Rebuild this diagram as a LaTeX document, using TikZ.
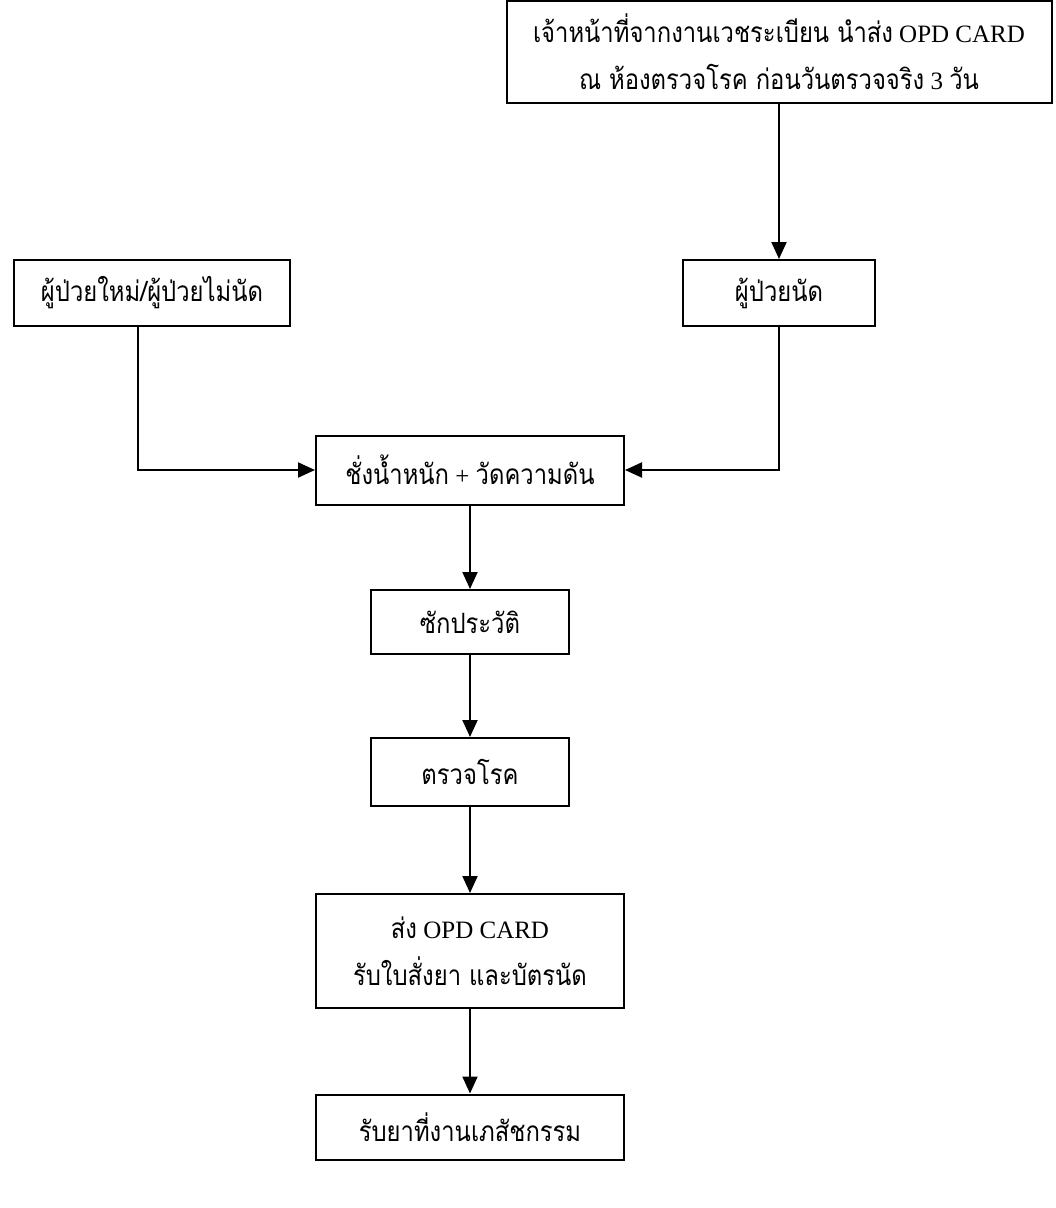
\documentclass[tikz,border=0pt]{standalone}
\usepackage{fontspec}
\setmainfont{Liberation Serif}
\newfontfamily\thai[Script=Thai,FakeStretch=0.85,Scale=1.12]{Loma}
\usetikzlibrary{arrows.meta}
\begin{document}
\begin{tikzpicture}[x=1pt,y=-1pt,
  box/.style={draw,line width=2pt,inner sep=0pt,align=center,
    font=\fontsize{25}{47}\selectfont},
  flow/.style={line width=2pt,-{Triangle[length=17pt,width=15pt]}}]
\useasboundingbox (0,0) rectangle (1056,1208);

% process boxes
\node[box,minimum width=545pt,minimum height=102pt] (reg) at (779,52)
  {{\thai เจ้าหน้าที่จากงานเวชระเบียน นำส่ง} OPD CARD\\
   {\thai ณ ห้องตรวจโรค ก่อนวันตรวจจริง} 3 {\thai วัน}};
\node[box,minimum width=276pt,minimum height=66pt] (newp) at (152,293)
  {\thai ผู้ป่วยใหม่/ผู้ป่วยไม่นัด};
\node[box,minimum width=192pt,minimum height=66pt] (appt) at (779,293)
  {\thai ผู้ป่วยนัด};
\node[box,minimum width=308pt,minimum height=69pt] (weigh) at (470,470)
  {{\thai ชั่งน้ำหนัก} + {\thai วัดความดัน}};
\node[box,minimum width=198pt,minimum height=64pt] (hist) at (470,622)
  {\thai ซักประวัติ};
\node[box,minimum width=198pt,minimum height=68pt] (exam) at (470,772)
  {\thai ตรวจโรค};
\node[box,minimum width=308pt,minimum height=114pt] (card) at (470,951)
  {{\thai ส่ง} OPD CARD\\{\thai รับใบสั่งยา และบัตรนัด}};
\node[box,minimum width=308pt,minimum height=65pt] (pharm) at (470,1127)
  {\thai รับยาที่งานเภสัชกรรม};

% connectors
\draw[flow] (reg.south) -- (appt.north);
\draw[flow] ([xshift=-14pt]newp.south) |- (weigh.west);
\draw[flow] (appt.south) |- (weigh.east);
\draw[flow] (weigh) -- (hist);
\draw[flow] (hist) -- (exam);
\draw[flow] (exam) -- (card);
\draw[flow] (card) -- (pharm);
\end{tikzpicture}
\end{document}
